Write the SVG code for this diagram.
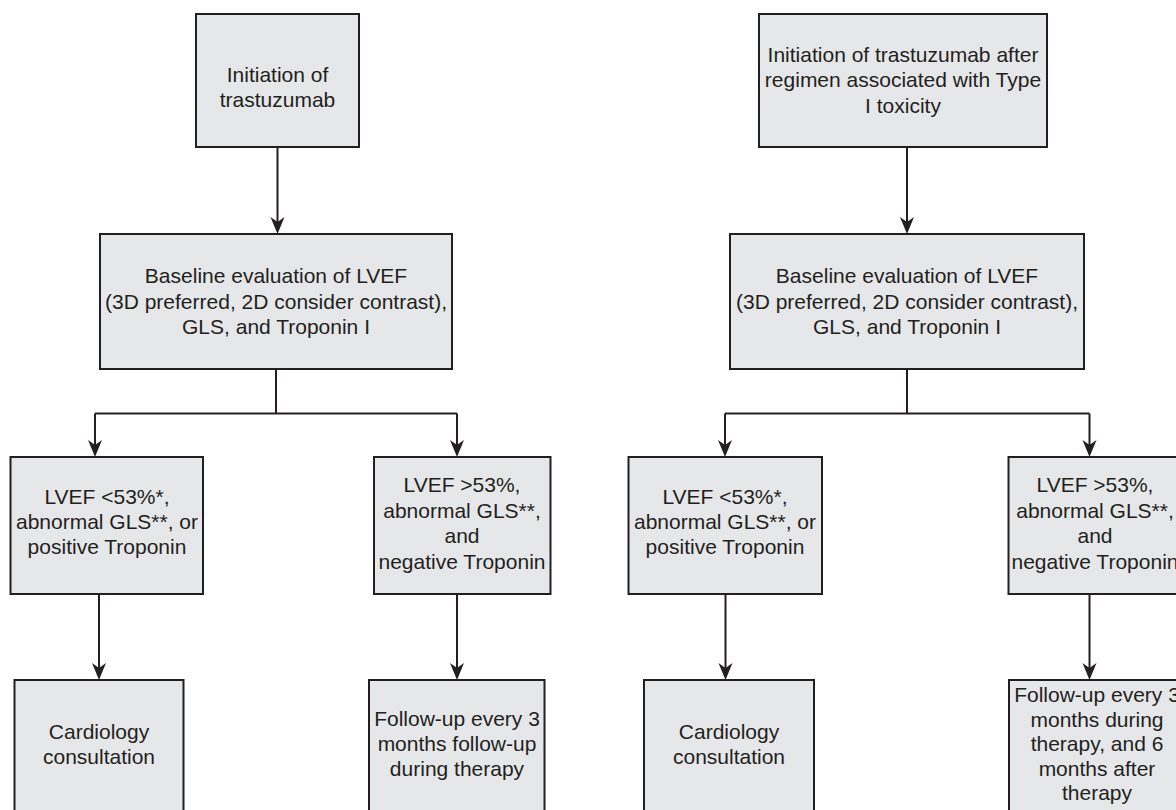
<svg xmlns="http://www.w3.org/2000/svg" width="1176" height="810" viewBox="0 0 1176 810">
<defs>
<style>
.box{fill:#e6e7e9;stroke:#231f20;stroke-width:2}
.t{font-family:"Liberation Sans",Arial,Helvetica,sans-serif;font-size:21px;fill:#231f20;text-anchor:middle}
.ln{fill:none;stroke:#231f20;stroke-width:2}
</style>
<marker id="ah" viewBox="-1 -8 19 16" markerWidth="19" markerHeight="16" markerUnits="userSpaceOnUse" refX="13" refY="0" orient="auto">
<path d="M0,-7 L17,0 L0,7 L5,0 Z" fill="#231f20"/>
</marker>
</defs>
<rect width="1176" height="810" fill="#ffffff"/>
<g id="connectors">
<path class="ln" d="M277.5,147 V230" marker-end="url(#ah)"/>
<path class="ln" d="M276,369 V413.5"/>
<path class="ln" d="M95,413.5 H457"/>
<path class="ln" d="M95,413.5 V453" marker-end="url(#ah)"/>
<path class="ln" d="M457,413.5 V453" marker-end="url(#ah)"/>
<path class="ln" d="M99,594 V676" marker-end="url(#ah)"/>
<path class="ln" d="M457,594 V676" marker-end="url(#ah)"/>
<path class="ln" d="M907,147 V230" marker-end="url(#ah)"/>
<path class="ln" d="M907,369 V413.5"/>
<path class="ln" d="M725,413.5 H1089.5"/>
<path class="ln" d="M725,413.5 V453" marker-end="url(#ah)"/>
<path class="ln" d="M1089.5,413.5 V453" marker-end="url(#ah)"/>
<path class="ln" d="M725.5,594 V676" marker-end="url(#ah)"/>
<path class="ln" d="M1089.5,594 V676" marker-end="url(#ah)"/>
</g>
<g id="n1"><rect class="box" x="196" y="14" width="163" height="133"/>
<text class="t" x="277.5" y="81.5">Initiation of</text><text class="t" x="277.5" y="106.5">trastuzumab</text></g>
<g id="n2"><rect class="box" x="100" y="234" width="352" height="135"/>
<text class="t" x="276" y="283">Baseline evaluation of LVEF</text><text class="t" x="276" y="308.5">(3D preferred, 2D consider contrast),</text><text class="t" x="276" y="334">GLS, and Troponin I</text></g>
<g id="n3"><rect class="box" x="10.5" y="457" width="192.5" height="137"/>
<text class="t" x="107" y="503.5">LVEF &lt;53%*,</text><text class="t" x="107" y="528.5">abnormal GLS**, or</text><text class="t" x="107" y="554">positive Troponin</text></g>
<g id="n4"><rect class="box" x="374" y="457" width="176.5" height="137"/>
<text class="t" x="462" y="491.5">LVEF &gt;53%,</text><text class="t" x="462" y="517.5">abnormal GLS**,</text><text class="t" x="462" y="543">and</text><text class="t" x="462" y="569">negative Troponin</text></g>
<g id="n5"><rect class="box" x="14.5" y="680" width="169" height="140"/>
<text class="t" x="99" y="739">Cardiology</text><text class="t" x="99" y="763.5">consultation</text></g>
<g id="n6"><rect class="box" x="369" y="680" width="175.5" height="140"/>
<text class="t" x="457" y="726">Follow-up every 3</text><text class="t" x="457" y="751">months follow-up</text><text class="t" x="457" y="776">during therapy</text></g>
<g id="n7"><rect class="box" x="759" y="14" width="288" height="133"/>
<text class="t" x="903" y="61.5">Initiation of trastuzumab after</text><text class="t" x="903" y="87">regimen associated with Type</text><text class="t" x="903" y="112.5">I toxicity</text></g>
<g id="n8"><rect class="box" x="730" y="234" width="354" height="135"/>
<text class="t" x="907" y="283">Baseline evaluation of LVEF</text><text class="t" x="907" y="308.5">(3D preferred, 2D consider contrast),</text><text class="t" x="907" y="334">GLS, and Troponin I</text></g>
<g id="n9"><rect class="box" x="628.5" y="457" width="193.5" height="137"/>
<text class="t" x="725" y="503.5">LVEF &lt;53%*,</text><text class="t" x="725" y="528.5">abnormal GLS**, or</text><text class="t" x="725" y="554">positive Troponin</text></g>
<g id="n10"><rect class="box" x="1008.5" y="457" width="180" height="137"/>
<text class="t" x="1095" y="491.5">LVEF &gt;53%,</text><text class="t" x="1095" y="517.5">abnormal GLS**,</text><text class="t" x="1095" y="543">and</text><text class="t" x="1095" y="569">negative Troponin</text></g>
<g id="n11"><rect class="box" x="644" y="680" width="170" height="140"/>
<text class="t" x="729" y="739">Cardiology</text><text class="t" x="729" y="763.5">consultation</text></g>
<g id="n12"><rect class="box" x="1009" y="680" width="180" height="140"/>
<text class="t" x="1097" y="702">Follow-up every 3</text><text class="t" x="1097" y="726.5">months during</text><text class="t" x="1097" y="751">therapy, and 6</text><text class="t" x="1097" y="775.5">months after</text><text class="t" x="1097" y="800">therapy</text></g>
</svg>
